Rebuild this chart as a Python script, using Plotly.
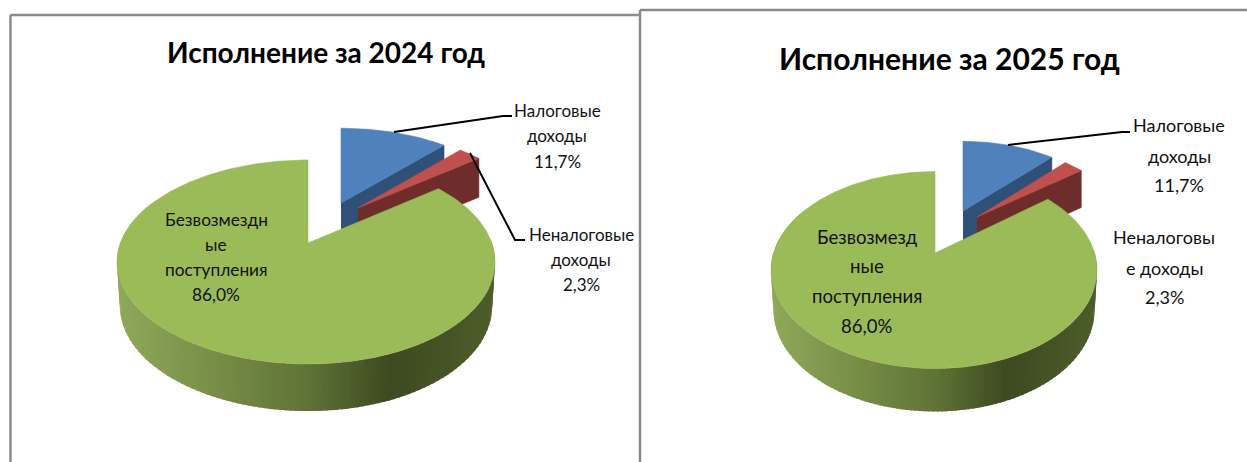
import numpy as np
import plotly.graph_objects as go

# ---- data ----
categories = ["Налоговые доходы", "Неналоговые доходы", "Безвозмездные поступления"]
values_2024 = [11.7, 2.3, 86.0]
values_2025 = [11.7, 2.3, 86.0]
title_2024 = "Исполнение за 2024 год"
title_2025 = "Исполнение за 2025 год"
wrapped_2024 = [["Налоговые", "доходы"], ["Неналоговые", "доходы"], ["Безвозмездн", "ые", "поступления"]]
wrapped_2025 = [["Налоговые", "доходы"], ["Неналоговы", "е доходы"], ["Безвозмезд", "ные", "поступления"]]

# ---- styles ----
TOP = ["#4f81bd", "#c0504d", "#9bbb59"]
CUT = ["#2f5079", "#6e2c2a", "#4f6030"]
WALL_STOPS = [(0.0, (143, 169, 90)), (0.25, (120, 143, 72)), (0.5, (95, 116, 55)),
              (0.72, (62, 74, 32)), (1.0, (77, 94, 42))]
FRAME = "#8a8a8a"
FONT = "Lato, Roboto, 'Noto Sans', sans-serif"
K = 0.8


def wall_color(t):
    xs = [s[0] for s in WALL_STOPS]
    return "rgb(%d,%d,%d)" % tuple(np.interp(t, xs, [s[1][i] for s in WALL_STOPS]) for i in range(3))


def warp(deg):
    th = np.radians(deg)
    return np.unwrap(np.arctan2(K * np.sin(th), np.cos(th)))


def rim(apex, rx, ry, yoff, deg, xshift=0.0):
    phi = warp(deg)
    return apex[0] + rx * np.sin(phi) + xshift * np.sin(phi) ** 2, apex[1] + yoff - ry * np.cos(phi)


def poly(fig, xs, ys, color, lw=0.6):
    fig.add_trace(go.Scatter(x=list(xs), y=list(ys), mode="lines", fill="toself", fillcolor=color,
                             line=dict(color=color, width=lw), hoverinfo="skip", showlegend=False))


def draw_pie(fig, values, geo):
    edges = np.concatenate([[0], np.cumsum(values) / np.sum(values) * 360])
    # blue, then red: top face and the visible cut wall
    for i in (0, 1):
        ap = geo["apex"][i]
        rx, ry, yoff = geo["rx"] * geo["sx"][i], geo["ry"] * geo["sy"][i], geo["yoff"][i]
        d = geo["depth"][i]
        deg = np.linspace(edges[i], edges[i + 1], 40)
        x, y = rim(ap, rx, ry, yoff, deg)
        poly(fig, [ap[0], x[-1], x[-1], ap[0]], [ap[1], y[-1], y[-1] + d, ap[1] + d], CUT[i])
        poly(fig, np.r_[ap[0], x, ap[0]], np.r_[ap[1], y, ap[1]], TOP[i])
    # green: outer wall in gradient strips, then top face
    ap = geo["apex"][2]
    d = geo["depth"][2]
    deg = np.linspace(edges[2], edges[3], 311)
    x, y = rim(ap, geo["rx"], geo["ry"], geo["yoff"][2], deg, geo["xshift"])
    xb = ap[0] + (x - ap[0]) * 0.985
    yb = ap[1] + geo["yoff"][2] + d + (y - ap[1] - geo["yoff"][2]) * 1.03
    lo = x.min()
    span = x.max() - lo
    for j in range(30, 250, 2):
        k = j + 4
        t = (x[j:k].mean() - lo) / span
        poly(fig, np.r_[x[j:k], xb[j:k][::-1]], np.r_[y[j:k], yb[j:k][::-1]], wall_color(t), lw=0)
    poly(fig, np.r_[ap[0], x, ap[0]], np.r_[ap[1], y, ap[1]], TOP[2])


def pct(v):
    return ("%.1f%%" % v).replace(".", ",")


def put_label(fig, cx, ys, lines, size):
    for yy, line in zip(ys, lines):
        fig.add_annotation(x=cx, y=yy, text=line, showarrow=False, xanchor="center", yanchor="middle",
                           font=dict(family=FONT, size=size, color="#111111"))


def leader(fig, xs, ys):
    fig.add_trace(go.Scatter(x=xs, y=ys, mode="lines", line=dict(color="black", width=2),
                             hoverinfo="skip", showlegend=False))


fig = go.Figure()

geo_2024 = dict(apex=[(341, 203), (358, 208), (308, 243)], sx=[0.93, 0.92, 1.0], sy=[0.88, 0.91, 1.0],
                rx=189, ry=102, yoff=[15, 17, 19], depth=[40, 39, 44], xshift=-2)
geo_2025 = dict(apex=[(963, 211), (977, 217), (935, 253)], sx=[0.93, 0.92, 1.0], sy=[0.86, 0.91, 1.0],
                rx=163, ry=98.5, yoff=[15, 18, 17], depth=[37, 37, 40], xshift=-1)
draw_pie(fig, values_2024, geo_2024)
draw_pie(fig, values_2025, geo_2025)

leader(fig, [394, 503, 512], [132, 116, 116])
leader(fig, [470, 515, 525], [153, 240, 240])
leader(fig, [1008, 1122, 1130], [145, 132, 132])

# labels
put_label(fig, 557, [110, 135, 161], wrapped_2024[0] + [pct(values_2024[0])], 17)
put_label(fig, 581, [234, 259, 284], wrapped_2024[1] + [pct(values_2024[1])], 17)
put_label(fig, 216, [219, 244, 269, 294], wrapped_2024[2] + [pct(values_2024[2])], 17.3)
put_label(fig, 1179, [125, 156, 185], wrapped_2025[0] + [pct(values_2025[0])], 18)
put_label(fig, 1164, [237, 268, 297], wrapped_2025[1] + [pct(values_2025[1])], 18)
put_label(fig, 867, [237, 266, 296, 326], wrapped_2025[2] + [pct(values_2025[2])], 18.6)

for cx, cy, txt, size in [(326, 52, title_2024, 28), (949, 57.5, title_2025, 30)]:
    fig.add_annotation(x=cx, y=cy, text="<b>%s</b>" % txt, showarrow=False, xanchor="center", yanchor="middle",
                       font=dict(family=FONT, size=size, color="black"))

# chart frames
frame_lines = [(10.5, 15, 640, 15), (10.5, 15, 10.5, 462), (640, 10, 640, 462), (640, 10, 1247, 10)]
for x0, y0, x1, y1 in frame_lines:
    fig.add_shape(type="line", x0=x0, y0=y0, x1=x1, y1=y1, line=dict(color=FRAME, width=2.5), layer="below")

fig.update_layout(width=1247, height=462, margin=dict(l=0, r=0, t=0, b=0), autosize=False,
                  paper_bgcolor="white", plot_bgcolor="white", showlegend=False,
                  xaxis=dict(range=[0, 1247], visible=False, fixedrange=True),
                  yaxis=dict(range=[462, 0], visible=False, fixedrange=True))
fig.write_html("out.html", config=dict(displayModeBar=False),
               post_script="document.body.style.margin='0';document.body.style.overflow='hidden';")
